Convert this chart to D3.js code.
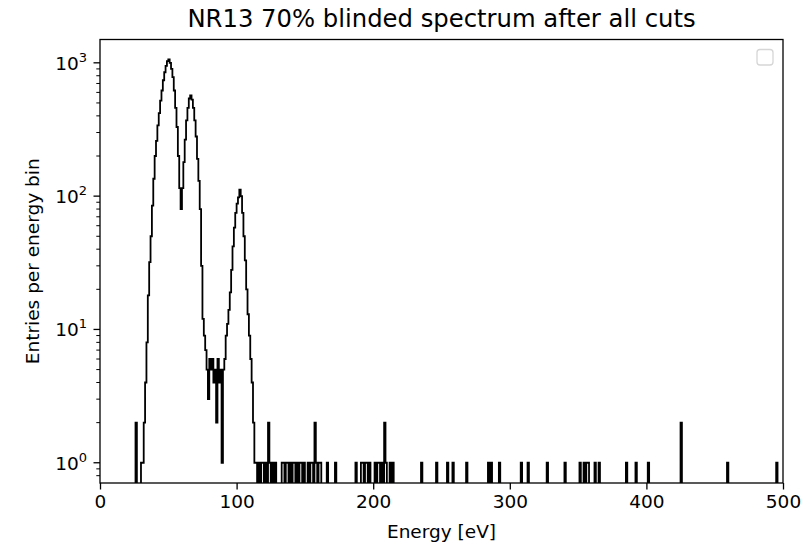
<!DOCTYPE html>
<html>
<head>
<meta charset="utf-8">
<script src="https://cdn.jsdelivr.net/npm/d3@7"></script>
<style>
  body { margin: 0; background: #fff; }
  svg { display: block; font-family: "DejaVu Sans", sans-serif; }
</style>
</head>
<body>
<svg width="804" height="547"></svg>
<script>
// histogram: 1 eV bins from 0 to 500 eV
const binWidth = 1
const xDomain = [0, 500]

// dense part of the spectrum, bins 26..114
const peakStart = 26
const peakCounts = [
  2, 0, 0, 0, 1, 1, 2, 4, 8, 18,
  32, 50, 85, 135, 200, 260, 340, 420, 520, 620,
  740, 850, 950, 1030, 1060, 1000, 900, 780, 620, 460,
  330, 200, 115, 80, 115, 180, 265, 370, 460, 540,
  570, 530, 460, 370, 280, 190, 130, 80, 30, 12,
  9, 7, 5, 3, 6, 5, 6, 4, 5, 2,
  6, 4, 5, 1, 5, 6, 9, 11, 14, 19,
  28, 42, 58, 75, 88, 98, 112, 100, 75, 50,
  33, 20, 13, 9, 6, 4, 2, 1, 1
]

// sparse tail: bins with a single entry, and with two
const singleBins = [116, 118, 119, 121, 124, 126, 128, 133, 134, 136, 137, 139, 141, 142,
  144, 146, 147, 149, 152, 154, 155, 158, 160, 161, 166, 172, 187, 191, 192, 194, 195,
  197, 201, 203, 204, 206, 209, 212, 214, 235, 246, 254, 258, 268, 284, 286, 292, 308,
  313, 327, 340, 351, 354, 356, 357, 362, 365, 385, 392, 401, 459, 495]
const doubleBins = [123, 157, 208, 425]

const xTicks = [0, 100, 200, 300, 400, 500]
const yMajor = [1, 10, 100, 1000]
const yExp = ["0", "1", "2", "3"]

const title = "NR13 70% blinded spectrum after all cuts"
const xLabel = "Energy [eV]"
const yLabel = "Entries per energy bin"

// build full bin array
const nBins = (xDomain[1] - xDomain[0]) / binWidth
const counts = new Array(nBins).fill(0)
peakCounts.forEach((c, i) => { counts[peakStart + i] = c })
singleBins.forEach(b => { counts[b] = 1 })
doubleBins.forEach(b => { counts[b] = 2 })

const svg = d3.select("svg")
const m = {left: 100, right: 783, top: 39.5, bottom: 483}

const x = d3.scaleLinear().domain(xDomain).range([m.left, m.right])
const y = d3.scaleLog().domain([0.705, 1496]).range([m.bottom, m.top])

svg.append("clipPath").attr("id", "clip")
  .append("rect")
  .attr("x", m.left).attr("y", m.top)
  .attr("width", m.right - m.left).attr("height", m.bottom - m.top)

// step outline like histtype='step'
const pts = [[xDomain[0], 0]]
counts.forEach((c, i) => {
  pts.push([xDomain[0] + i * binWidth, c])
  pts.push([xDomain[0] + (i + 1) * binWidth, c])
})
pts.push([xDomain[1], 0])

const line = d3.line()
  .x(d => x(d[0]))
  .y(d => d[1] > 0 ? y(d[1]) : m.bottom + 20)

svg.append("path")
  .datum(pts)
  .attr("clip-path", "url(#clip)")
  .attr("d", line)
  .attr("fill", "none")
  .attr("stroke", "#000")
  .attr("stroke-width", 1.8)
  .attr("stroke-linejoin", "miter")

// frame
svg.append("rect")
  .attr("x", m.left).attr("y", m.top)
  .attr("width", m.right - m.left).attr("height", m.bottom - m.top)
  .attr("fill", "none").attr("stroke", "#000").attr("stroke-width", 1.3)

// x axis
const xAxis = svg.append("g")
  .attr("transform", `translate(0,${m.bottom})`)
  .call(d3.axisBottom(x).tickValues(xTicks).tickSize(6.5).tickPadding(5))
xAxis.select(".domain").remove()
xAxis.selectAll("line").attr("stroke-width", 1.3)
xAxis.selectAll("text")
  .attr("font-size", 18.5).attr("fill", "#000")
  .attr("font-family", "DejaVu Sans")

// y axis minor ticks
const yMinor = []
for (let p = -1; p <= 3; p++) {
  for (let k = 2; k <= 9; k++) {
    const v = k * Math.pow(10, p)
    if (v > y.domain()[0] && v < y.domain()[1]) yMinor.push(v)
  }
}
svg.append("g").selectAll("line").data(yMinor).join("line")
  .attr("x1", m.left - 3.7).attr("x2", m.left)
  .attr("y1", d => y(d)).attr("y2", d => y(d))
  .attr("stroke", "#000").attr("stroke-width", 1)

svg.append("g").selectAll("line").data(yMajor).join("line")
  .attr("x1", m.left - 6.5).attr("x2", m.left)
  .attr("y1", d => y(d)).attr("y2", d => y(d))
  .attr("stroke", "#000").attr("stroke-width", 1.3)

const yl = svg.append("g").selectAll("text").data(yMajor).join("text")
  .attr("x", m.left - 13)
  .attr("y", d => y(d) + 6.8)
  .attr("text-anchor", "end")
  .attr("font-size", 18.5)
yl.append("tspan").text("10")
yl.append("tspan").text((d, i) => yExp[i])
  .attr("font-size", 13).attr("dy", -8)

// labels
svg.append("text")
  .attr("x", (m.left + m.right) / 2).attr("y", 538)
  .attr("text-anchor", "middle").attr("font-size", 18.5)
  .text(xLabel)

svg.append("text")
  .attr("transform", `translate(38.5,${(m.top + m.bottom) / 2}) rotate(-90)`)
  .attr("text-anchor", "middle").attr("font-size", 18.5)
  .text(yLabel)

svg.append("text")
  .attr("x", (m.left + m.right) / 2).attr("y", 27)
  .attr("text-anchor", "middle").attr("font-size", 24.3)
  .text(title)

// empty legend frame
svg.append("rect")
  .attr("x", 757).attr("y", 49.5).attr("width", 16).attr("height", 15.5)
  .attr("rx", 3)
  .attr("fill", "#fff").attr("stroke", "#d6d6d6").attr("stroke-width", 1.3)
</script>
</body>
</html>
